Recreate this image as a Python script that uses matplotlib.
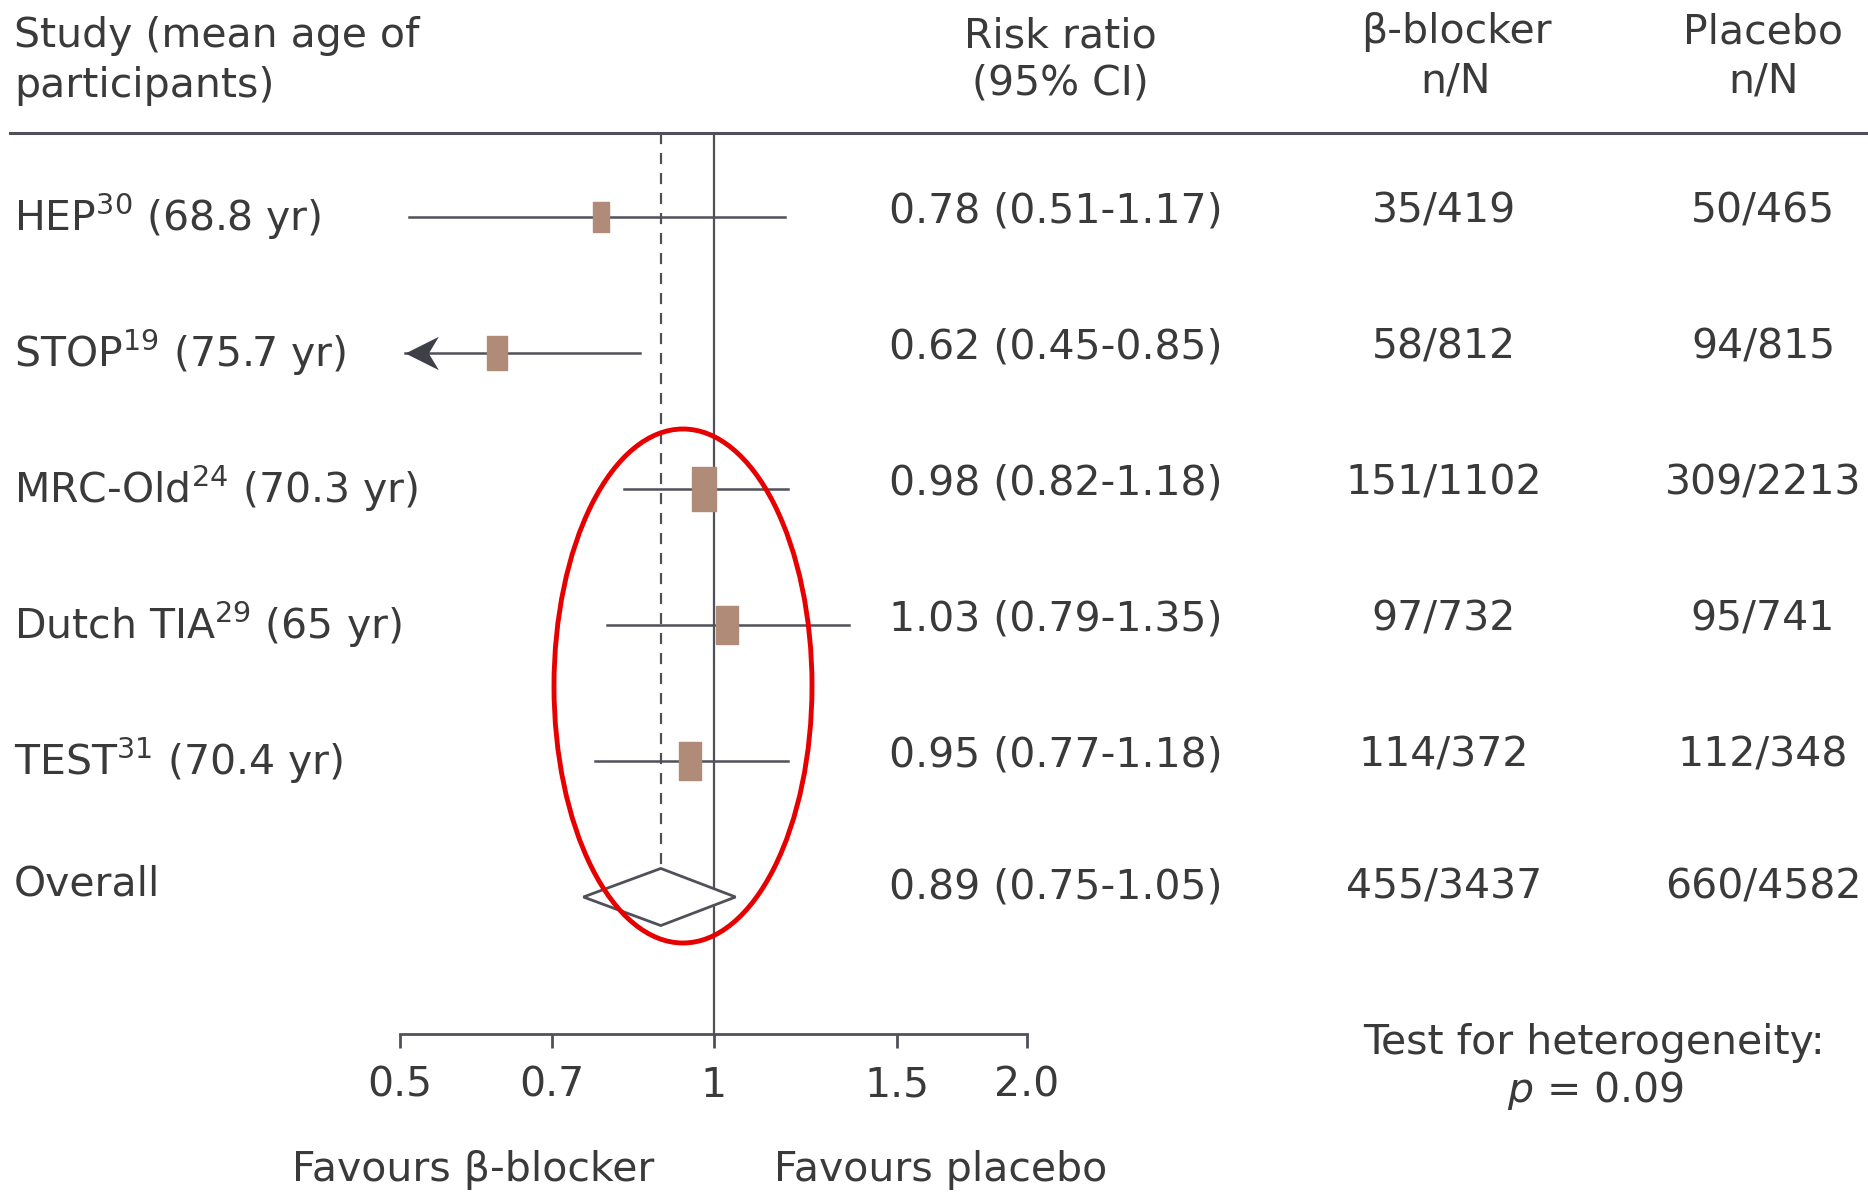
import numpy as np
import matplotlib.pyplot as plt
from matplotlib.patches import Ellipse, Polygon
from matplotlib.path import Path
from matplotlib.ticker import FixedLocator, FixedFormatter, NullLocator

plt.rcParams['font.family'] = ['DejaVu Sans']
plt.rcParams['mathtext.fontset'] = 'dejavusans'

# data
studies = ["HEP$^{30}$ (68.8 yr)", "STOP$^{19}$ (75.7 yr)", "MRC-Old$^{24}$ (70.3 yr)",
           "Dutch TIA$^{29}$ (65 yr)", "TEST$^{31}$ (70.4 yr)"]
rr = [0.78, 0.62, 0.98, 1.03, 0.95]
ci_lo = [0.51, 0.45, 0.82, 0.79, 0.77]
ci_hi = [1.17, 0.85, 1.18, 1.35, 1.18]
bb_counts = ["35/419", "58/812", "151/1102", "97/732", "114/372"]
pl_counts = ["50/465", "94/815", "309/2213", "95/741", "112/348"]

overall_rr = 0.89
overall_lo = 0.75
overall_hi = 1.05
overall_bb = "455/3437"
overall_pl = "660/4582"
het_p = 0.09

tick_vals = [0.5, 0.7, 1, 1.5, 2.0]
tick_labels = ["0.5", "0.7", "1", "1.5", "2.0"]

TXT = '#3a3a3a'
LINE = '#50505a'
BOX = '#b08b78'
FS = 29.5

W, H = 1868, 1192
fig = plt.figure(figsize=(W / 100, H / 100), dpi=100)

# forest panel, pixel box 400..1027 x 133..1034
ax = fig.add_axes([400 / W, 1 - 1034 / H, 627 / W, 901 / H])
ax.set_xscale('log')
ax.set_xlim(tick_vals[0], tick_vals[-1])
row0, step = 217, 136
ax.set_ylim((1034 - row0) / step, (133 - row0) / step)
for s in ['top', 'left', 'right']:
    ax.spines[s].set_visible(False)
ax.spines['bottom'].set_color(LINE)
ax.spines['bottom'].set_linewidth(2)
ax.yaxis.set_major_locator(NullLocator())
ax.xaxis.set_major_locator(FixedLocator(tick_vals))
ax.xaxis.set_major_formatter(FixedFormatter(tick_labels))
ax.xaxis.set_minor_locator(NullLocator())
ax.tick_params(axis='x', length=10, width=2, color=LINE, labelsize=FS,
               labelcolor=TXT, pad=13)
ax.patch.set_alpha(0)

n = len(studies)
ys = np.arange(n)

# reference lines
ax.axvline(1, color=LINE, lw=1.6, zorder=1)
ax.plot([overall_rr, overall_rr], [ax.get_ylim()[1], n], color=LINE, lw=1.6,
        ls=(0, (5, 4)), zorder=1)

# CI lines and boxes
box_h = [21, 24, 31, 27, 27]
rect = Path([(-0.58, -1), (0.58, -1), (0.58, 1), (-0.58, 1), (-0.58, -1)])
# stealth arrow head, tip at origin pointing left
stealth = Path([(0, 0), (1, 0.5), (0.7, 0), (1, -0.5), (0, 0)])
xmin = ax.get_xlim()[0]
for i in range(n):
    lo = max(ci_lo[i], xmin * 1.01)
    ax.plot([lo, ci_hi[i]], [ys[i], ys[i]], color=LINE, lw=1.8, zorder=2)
    if ci_lo[i] < xmin:
        ax.plot(lo, ys[i], marker=stealth, ms=48, color='#3f3f48', mec='#3f3f48',
                mew=0, zorder=3)
    ax.plot(rr[i], ys[i], marker=rect, ms=box_h[i], color=BOX, mec=BOX, zorder=3)

# overall diamond
dh = 0.21
diamond = Polygon([(overall_lo, n), (overall_rr, n - dh), (overall_hi, n), (overall_rr, n + dh)],
                  closed=True, fc='white', ec=LINE, lw=2, zorder=4)
ax.add_patch(diamond)

# overlay in pixel coordinates for the table text
ov = fig.add_axes([0, 0, 1, 1])
ov.set_xlim(0, W)
ov.set_ylim(H, 0)
ov.axis('off')
ov.patch.set_alpha(0)

ov.plot([10, W], [133, 133], color=LINE, lw=2.2)

kw = dict(fontsize=FS, color=TXT, va='center')
ov.text(14, 36, "Study (mean age of", ha='left', **kw)
ov.text(14, 86, "participants)", ha='left', **kw)
ov.text(1060, 36, "Risk ratio", ha='center', **kw)
ov.text(1060, 84, "(95% CI)", ha='center', **kw)
ov.text(1456, 32, "β-blocker", ha='center', **kw)
ov.text(1456, 82, "n/N", ha='center', **kw)
ov.text(1763, 32, "Placebo", ha='center', **kw)
ov.text(1763, 82, "n/N", ha='center', **kw)

for i in range(n):
    y = row0 + step * i
    ov.text(14, y, studies[i], ha='left', **kw)
    ov.text(889, y - 6, f"{rr[i]:.2f} ({ci_lo[i]:.2f}-{ci_hi[i]:.2f})", ha='left', **kw)
    ov.text(1444, y - 6, bb_counts[i], ha='center', **kw)
    ov.text(1763, y - 6, pl_counts[i], ha='center', **kw)

y = row0 + step * n
ov.text(14, y - 13, "Overall", ha='left', **kw)
ov.text(889, y - 9, f"{overall_rr:.2f} ({overall_lo:.2f}-{overall_hi:.2f})", ha='left', **kw)
ov.text(1444, y - 9, overall_bb, ha='center', **kw)
ov.text(1763, y - 9, overall_pl, ha='center', **kw)

ov.text(1594, 1043, "Test for heterogeneity:", ha='center', **kw)
ov.text(1596, 1091, f"$p$ = {het_p:.2f}", ha='center', **kw)

ov.text(473, 1170, "Favours β-blocker", ha='center', **kw)
ov.text(941, 1170, "Favours placebo", ha='center', **kw)

# red highlight ellipse
ov.add_patch(Ellipse((683, 686), 258, 514, fill=False, ec='#e60000', lw=3.5))

fig.savefig('out.png', dpi=100, facecolor='white')
